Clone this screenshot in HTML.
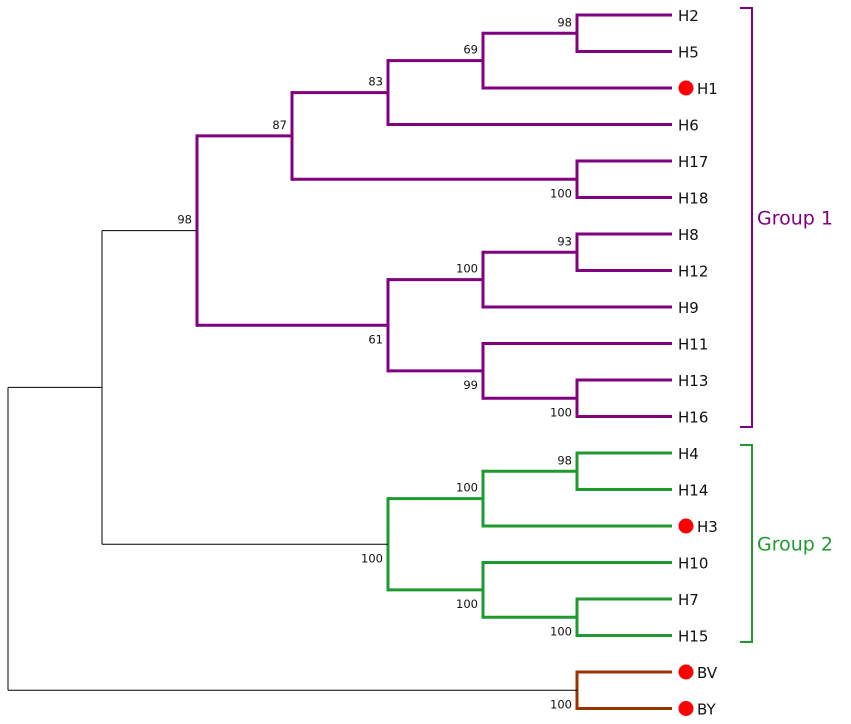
<!DOCTYPE html>
<html><head><meta charset="utf-8"><style>
html,body{margin:0;padding:0;background:#fff;}
svg{display:block;}
text{font-family:"DejaVu Sans","Liberation Sans",sans-serif;}
</style></head><body>
<svg id="tree" width="851" height="724" viewBox="0 0 851 724" xmlns="http://www.w3.org/2000/svg"></svg>
<script>
// Leaf order (top to bottom) and which leaves carry a red dot
const leafNames = ["H2","H5","H1","H6","H17","H18","H8","H12","H9","H11","H13","H16","H4","H14","H3","H10","H7","H15","BV","BY"];
const dotLeaves = ["H1","H3","BV","BY"];
// Internal nodes: [id, x-depth position, children, bootstrap, label side, color]
const nodeIds   = ["a","b","c","d","e","f","g","h","i","j","g1","k","l","m","n","g2","r1","br","root"];
const nodeX     = [577,483,388,577,292,577,483,577,483,388,197,577,483,577,483,388,102,577,8];
const nodeKids  = [["H2","H5"],["a","H1"],["b","H6"],["H17","H18"],["c","d"],["H8","H12"],["f","H9"],["H13","H16"],["H11","h"],["g","i"],["e","j"],["H4","H14"],["k","H3"],["H7","H15"],["H10","m"],["l","n"],["g1","g2"],["BV","BY"],["r1","br"]];
const bootstrap = ["98","69","83","100","87","93","100","100","99","61","98","98","100","100","100","100","","100",""];
const labelSide = ["up","up","up","down","up","up","up","down","down","down","up","up","up","down","down","down","up","down","up"];
const nodeColor = ["#800080","#800080","#800080","#800080","#800080","#800080","#800080","#800080","#800080","#800080","#800080","#1f9a2f","#1f9a2f","#1f9a2f","#1f9a2f","#1f9a2f","#000","#993300","#000"];

const svg=document.getElementById('tree');
const NS="http://www.w3.org/2000/svg";
const leafX=672, y0=15, dy=36.5;
const pos={};
leafNames.forEach((n,i)=>{pos[n]={x:leafX,y:y0+i*dy};});
function mk(tag,attrs){const e=document.createElementNS(NS,tag);for(const k in attrs)e.setAttribute(k,attrs[k]);svg.appendChild(e);return e;}
nodeIds.forEach((id,i)=>{
  const ys=nodeKids[i].map(c=>pos[c].y);
  pos[id]={x:nodeX[i],y:(Math.min(...ys)+Math.max(...ys))/2};
});
nodeIds.forEach((id,i)=>{
  const x=nodeX[i], col=nodeColor[i], w=(col==="#000")?1:3;
  const ys=nodeKids[i].map(c=>pos[c].y);
  const v=mk('line',{x1:x,x2:x,y1:Math.min(...ys)-(w>1?1.5:0),y2:Math.max(...ys)+(w>1?1.5:0),stroke:col,'stroke-width':w});
  
  
  nodeKids[i].forEach(c=>{
    const h=mk('line',{x1:x,x2:pos[c].x,y1:pos[c].y,y2:pos[c].y,stroke:col,'stroke-width':w});
    
    
  });
  if(bootstrap[i]){
    const t=mk('text',{x:x-5,y:labelSide[i]==="up"?pos[id].y-7:pos[id].y+18,'text-anchor':'end','font-size':'11.5',fill:'#111'});
    t.textContent=bootstrap[i];
    
    
  }
});
leafNames.forEach(n=>{
  const p=pos[n];
  let tx=leafX+6;
  if(dotLeaves.includes(n)){
    const c=mk('circle',{cx:leafX+14,cy:p.y,r:7.5,fill:'#f00'});
    
    
    tx=leafX+25;
  }
  const t=mk('text',{x:tx,y:p.y+6,'font-size':'15',fill:'#111'});
  t.textContent=n;
  
  
});
// group brackets
const groupNames=["Group 1","Group 2"];
const groupTop=[8,445];
const groupBot=[427,642];
const groupCol=["#800080","#1f9a2f"];
groupNames.forEach((g,i)=>{
  const b=mk('path',{d:`M740 ${groupTop[i]} H752 V${groupBot[i]} H740`,fill:'none',stroke:groupCol[i],'stroke-width':2});
  
  
  const t=mk('text',{x:757,y:(groupTop[i]+groupBot[i])/2+7,'font-size':'19',fill:groupCol[i]});
  t.textContent=g;
  
  
});
</script>
</body></html>
